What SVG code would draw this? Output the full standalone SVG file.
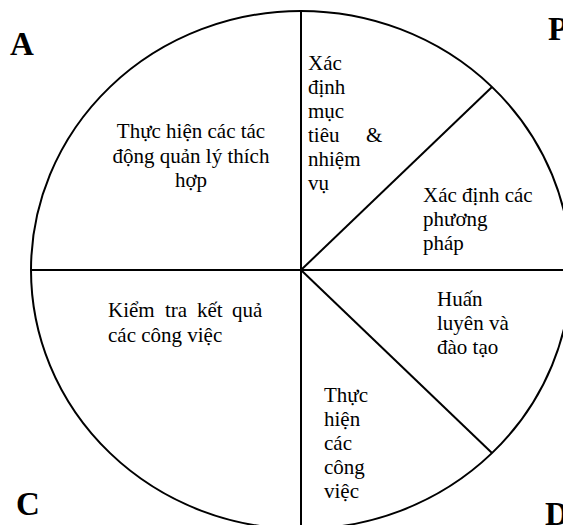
<svg xmlns="http://www.w3.org/2000/svg" width="563" height="525" viewBox="0 0 563 525">
  <style>
    .edge { fill: none; stroke: #000; stroke-width: 2; }
    .t { font-family: "Liberation Serif", "Times New Roman", serif; font-size: 21px; fill: #000; }
    .corner { font-family: "Liberation Serif", "Times New Roman", serif; font-size: 33px; font-weight: bold; fill: #000; }
  </style>
  <rect width="563" height="525" fill="#fff"/>

  <!-- outer ring and dividing lines -->
  <g id="connectors">
    <ellipse class="edge" cx="301" cy="270" rx="270" ry="259"/>
    <line class="edge" x1="301" y1="11" x2="301" y2="525"/>
    <line class="edge" x1="31" y1="270" x2="563" y2="270"/>
    <line class="edge" x1="301" y1="270" x2="492" y2="87"/>
    <line class="edge" x1="301" y1="270" x2="492" y2="453"/>
  </g>

  <!-- corner letters -->
  <g id="label-A"><text class="corner" x="10" y="55">A</text></g>
  <g id="label-P"><text class="corner" x="548" y="40">P</text></g>
  <g id="label-C"><text class="corner" x="16" y="515">C</text></g>
  <g id="label-D"><text class="corner" x="545" y="525">D</text></g>

  <!-- sectors -->
  <g id="sector-muc-tieu">
    <text class="t" x="308" y="70">Xác</text>
    <text class="t" x="308" y="94">định</text>
    <text class="t" x="308" y="118">mục</text>
    <text class="t" x="308" y="142">tiêu</text>
    <text class="t" x="366" y="142">&amp;</text>
    <text class="t" x="308" y="166">nhiệm</text>
    <text class="t" x="308" y="190">vụ</text>
  </g>

  <g id="sector-phuong-phap">
    <text class="t" x="423" y="202">Xác định các</text>
    <text class="t" x="423" y="226">phương</text>
    <text class="t" x="423" y="250">pháp</text>
  </g>

  <g id="sector-huan-luyen">
    <text class="t" x="437" y="306">Huấn</text>
    <text class="t" x="437" y="330">luyên và</text>
    <text class="t" x="437" y="354">đào tạo</text>
  </g>

  <g id="sector-thuc-hien-cong-viec">
    <text class="t" x="324" y="402">Thực</text>
    <text class="t" x="324" y="426">hiện</text>
    <text class="t" x="324" y="450">các</text>
    <text class="t" x="324" y="474">công</text>
    <text class="t" x="324" y="498">việc</text>
  </g>

  <g id="sector-kiem-tra">
    <!-- justified line: words placed one by one -->
    <text class="t" y="317"><tspan x="108">Kiểm</tspan><tspan x="165">tra</tspan><tspan x="197">kết</tspan><tspan x="232">quả</tspan></text>
    <text class="t" x="108" y="342">các công việc</text>
  </g>

  <g id="sector-tac-dong">
    <text class="t" x="191" y="138" text-anchor="middle">Thực hiện các tác</text>
    <text class="t" x="191" y="163" text-anchor="middle">động quản lý thích</text>
    <text class="t" x="191" y="187" text-anchor="middle">hợp</text>
  </g>
</svg>
